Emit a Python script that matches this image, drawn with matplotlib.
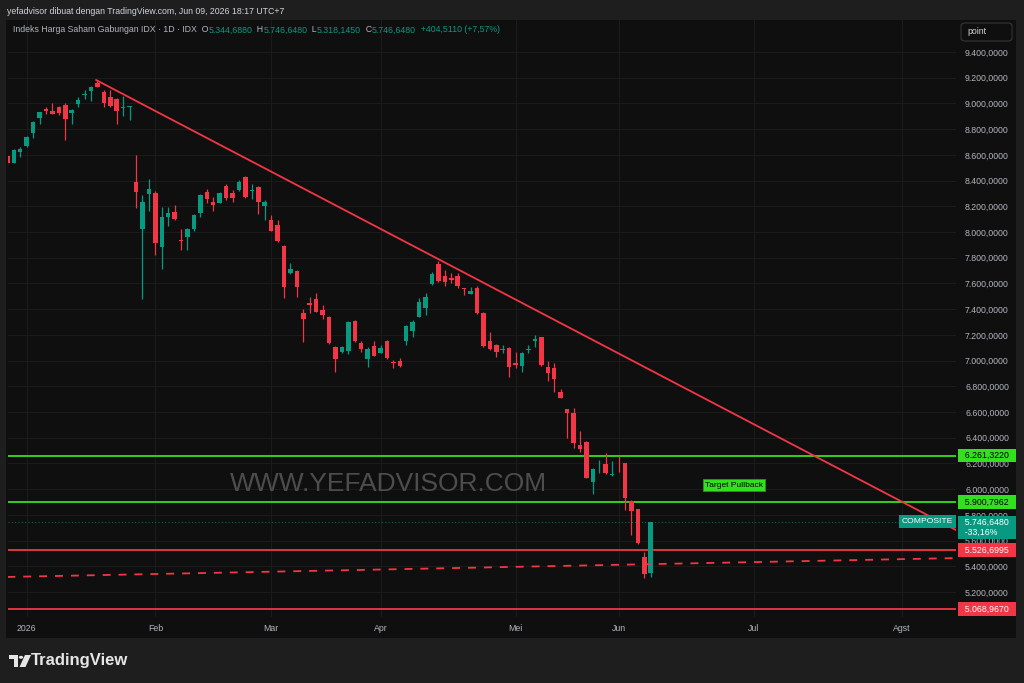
import numpy as np
import matplotlib
matplotlib.use("Agg")
import matplotlib.pyplot as plt
import matplotlib.transforms as mtransforms
from matplotlib.patches import Rectangle, FancyBboxPatch, Polygon, Circle

plt.rcParams['font.family'] = ['Liberation Sans', 'DejaVu Sans']

W, H = 1024, 683

# IDX composite, daily bars, end of Dec 2025 .. Jun 09 2026
opens = np.array([
    8591, 8539, 8620, 8669, 8772, 8884, 8957, 8943, 8970, 8990,
    8928, 8998, 9066, 9097, 9157, 9091, 9052, 9032, 8962, 8970,
    8391, 8021, 8296, 8306, 7881, 8119, 8153, 7938, 7963, 8021,
    8145, 8313, 8236, 8228, 8358, 8301, 8327, 8430, 8319, 8352,
    8202, 8093, 8054, 7893, 7683, 7697, 7372, 7444, 7479, 7393,
    7341, 7108, 7067, 7077, 7308, 7134, 7015, 7116, 7062, 7152,
    6990, 6994, 7155, 7232, 7341, 7407, 7596, 7751, 7660, 7645,
    7660, 7560, 7518, 7562, 7372, 7152, 7121, 7084, 7100, 6983,
    6960, 7082, 7156, 7181, 6952, 6945, 6758, 6623, 6595, 6343,
    6364, 6053, 6192, 6196, 6112, 6199, 6201, 5908, 5843, 5475,
    5344.688])
highs = np.array([
    8599, 8645, 8663, 8750, 8860, 8937, 8972, 9001, 8980, 9003,
    8957, 9050, 9104, 9135, 9182, 9104, 9104, 9040, 9058, 8980,
    8599, 8288, 8410, 8319, 8197, 8197, 8210, 8023, 8031, 8140,
    8296, 8334, 8270, 8313, 8373, 8327, 8401, 8438, 8373, 8358,
    8245, 8132, 8093, 7899, 7757, 7704, 7399, 7497, 7523, 7432,
    7347, 7113, 7113, 7304, 7316, 7155, 7108, 7155, 7124, 7160,
    7004, 7018, 7277, 7312, 7484, 7523, 7685, 7775, 7704, 7679,
    7679, 7562, 7570, 7582, 7378, 7225, 7125, 7121, 7106, 7064,
    7063, 7121, 7199, 7183, 6999, 6979, 6777, 6627, 6629, 6455,
    6371, 6161, 6227, 6284, 6219, 6258, 6203, 5916, 5849, 5514,
    5746.648])
lows = np.array([
    8521, 8537, 8581, 8661, 8731, 8838, 8918, 8914, 8910, 8716,
    8838, 8975, 9034, 9021, 9124, 8975, 8970, 8838, 8902, 8871,
    8184, 7477, 8166, 7821, 7710, 8049, 8093, 7860, 7860, 8008,
    8114, 8223, 8166, 8223, 8249, 8236, 8319, 8262, 8257, 8140,
    8093, 8004, 7926, 7484, 7677, 7497, 7147, 7368, 7374, 7321,
    7129, 6913, 7059, 7051, 7148, 7064, 6948, 7032, 7057, 7016,
    6940, 6952, 7121, 7181, 7335, 7354, 7588, 7611, 7580, 7601,
    7567, 7510, 7514, 7362, 7109, 7086, 7030, 7057, 6875, 6945,
    6913, 7057, 7108, 6958, 6843, 6758, 6705, 6395, 6318, 6289,
    6083, 5960, 6123, 6118, 6102, 6136, 5838, 5643, 5577, 5307,
    5318.145])
closes = np.array([
    8537, 8638, 8645, 8741, 8853, 8931, 8939, 8920, 8928, 8881,
    8949, 9029, 9073, 9130, 9130, 9006, 8982, 8943, 8975, 8976,
    8311, 8231, 8332, 7917, 8119, 8145, 8099, 7930, 8023, 8132,
    8288, 8257, 8208, 8306, 8262, 8267, 8391, 8270, 8327, 8231,
    8236, 8010, 7932, 7570, 7710, 7575, 7326, 7436, 7380, 7354,
    7134, 7012, 7103, 7298, 7155, 7090, 7090, 7038, 7098, 7022,
    6984, 6960, 7271, 7302, 7453, 7497, 7673, 7619, 7609, 7627,
    7582, 7554, 7539, 7368, 7116, 7092, 7064, 7090, 6952, 6966,
    7057, 7088, 7164, 6966, 6901, 6854, 6711, 6595, 6361, 6310,
    6089, 6155, 6199, 6123, 6118, 6192, 5934, 5830, 5584, 5342.137,
    5746.648])

month_pos = [3, 23, 41, 58, 79, 95, 116, 139]
month_labels = ['2026', 'Feb', 'Mar', 'Apr', 'Mei', 'Jun', 'Jul', 'Agst']
price_ticks = np.arange(5200, 9401, 200)

# drawings on the chart
green_levels = [6261.3220, 5900.7962]
red_levels = [5526.6995, 5068.9670]
trend_x = [13.8, 147.6]
trend_y = [9182, 5678]
dash_x = [0, 147.6]
dash_y = [5317, 5464]
target_x, target_y = 113, 6032
change_pct = '-33,16%'

UP = '#089981'
DOWN = '#f23645'
GREEN = '#33e01f'
BG = '#0f0f0f'
OUTER = '#1e1e1e'
TXT = '#b2b5be'
FS = 6.3


def idn(v, d=4):
    s = f"{v:,.{d}f}"
    return s.replace(',', '_').replace('.', ',').replace('_', '.')


def fx(px):
    return px / W


def fy(py):
    return 1 - py / H


fig = plt.figure(figsize=(W / 100, H / 100), dpi=100, facecolor=OUTER)
fig.add_artist(Rectangle((fx(6), fy(638)), fx(1016) - fx(6), fy(20) - fy(638),
                         transform=fig.transFigure, fc=BG, ec='none', zorder=-1))

ax = fig.add_axes([fx(8), fy(617), fx(956) - fx(8), fy(20) - fy(617)])
ax.set_facecolor(BG)
ax.set_xlim(0.1, 147.45)
ax.set_ylim(5005.5, 9648.8)
for s in ax.spines.values():
    s.set_visible(False)

ax.yaxis.tick_right()
ax.set_yticks(price_ticks, labels=[idn(v) for v in price_ticks])
ax.set_xticks(month_pos, labels=month_labels)
ax.tick_params(axis='y', length=0, pad=6.5, labelsize=FS, labelcolor=TXT)
ax.tick_params(axis='x', length=0, pad=5, labelsize=FS, labelcolor=TXT)
ax.grid(True, color='#1b1b1b', lw=0.8)
ax.set_axisbelow(True)

# watermark
ax.text(59.2, 6040, 'WWW.YEFADVISOR.COM', ha='center', va='center',
        fontsize=19, color='#4d4d4d', zorder=1)

# candles
x = np.arange(len(opens))
up = closes >= opens
cols = np.where(up, UP, DOWN)
ax.vlines(x, lows, highs, colors=cols, lw=0.9, zorder=3)
body_lo = np.minimum(opens, closes)
body_h = np.maximum(np.abs(closes - opens), 7)
ax.bar(x, body_h, bottom=body_lo, width=0.7, color=cols, edgecolor='none', zorder=4)

# levels and trend lines
for lv in green_levels:
    ax.axhline(lv, color=GREEN, lw=1.3, zorder=2)
for lv in red_levels:
    ax.axhline(lv, color=DOWN, lw=1.3, zorder=2)
ax.axhline(closes[-1], color=UP, lw=0.8, ls=(0, (1, 2)), alpha=0.6, zorder=2)
ax.plot(trend_x, trend_y, color=DOWN, lw=1.3, zorder=5)
ax.plot(dash_x, dash_y, color=DOWN, lw=1.3, ls=(0, (4.4, 4.4)), zorder=5)

ax.text(target_x, target_y, 'Target Pullback', ha='center', va='center', fontsize=6,
        color='black', zorder=6,
        bbox=dict(boxstyle='square,pad=0.25', fc=GREEN, ec='#1f9a12', lw=0.6))

blend = mtransforms.blended_transform_factory(ax.transAxes, ax.transData)


def tag(price, text, fc, tc, dy=0, va='center', ls=1.0):
    ax.annotate(text, xy=(1, price), xycoords=blend, xytext=(2.9, dy),
                textcoords='offset points', ha='left', va=va, fontsize=FS,
                color=tc, linespacing=ls, annotation_clip=False, zorder=7,
                bbox=dict(boxstyle='square,pad=0.25', fc=fc, ec='none'))


tag(green_levels[0], '  ' + idn(green_levels[0]) + '  ', GREEN, 'black')
tag(green_levels[1], '  ' + idn(green_levels[1]) + '  ', GREEN, 'black')
tag(red_levels[0], '  ' + idn(red_levels[0]) + '  ', DOWN, 'white')
tag(red_levels[1], '  ' + idn(red_levels[1]) + '  ', DOWN, 'white')
tag(closes[-1], '  ' + idn(closes[-1]) + '  \n  ' + change_pct, UP, 'white',
    dy=2.8, va='top', ls=1.2)

ax.annotate('COMPOSITE', xy=(1, closes[-1]), xycoords=blend, xytext=(-2.2, 0),
            textcoords='offset points', ha='right', va='center', fontsize=6.1,
            color='white', annotation_clip=False, zorder=7,
            bbox=dict(boxstyle='square,pad=0.35', fc=UP, ec='none'))

# header and legend
fig.text(fx(7), fy(11), 'yefadvisor dibuat dengan TradingView.com, Jun 09, 2026 18:17 UTC+7',
         ha='left', va='center', fontsize=FS, color='#d1d4dc')

o, h, l, c = opens[-1], highs[-1], lows[-1], closes[-1]
chg = c - closes[-2]
pieces = [('  O', TXT), (idn(o), UP), ('  H', TXT), (idn(h), UP),
          ('  L', TXT), (idn(l), UP), ('  C', TXT), (idn(c), UP),
          ('  ' + ('+' if chg >= 0 else '') + idn(chg) + ' (+' + idn(chg / closes[-2] * 100, 2) + '%)', UP)]
prev = fig.text(fx(13), fy(30), 'Indeks Harga Saham Gabungan IDX · 1D · IDX',
                ha='left', va='center', fontsize=FS, color=TXT)
for txt, col in pieces:
    prev = ax.annotate(txt, xy=(1, 0.5), xycoords=prev, ha='left', va='center',
                       fontsize=FS, color=col, annotation_clip=False)

# "point" button on the price scale
fig.add_artist(FancyBboxPatch((fx(961), fy(41)), fx(1012) - fx(961), fy(23) - fy(41),
                              boxstyle='round,pad=0,rounding_size=0.004',
                              transform=fig.transFigure, fc=BG, ec='#363636', lw=0.8))
fig.text(fx(967), fy(32), 'point', ha='left', va='center', fontsize=FS, color='#d1d4dc')

# footer logo
logo = '#e6e6e6'
fig.add_artist(Rectangle((fx(9), fy(659)), fx(17.5) - fx(9), fy(655) - fy(659),
                         transform=fig.transFigure, fc=logo, ec='none'))
fig.add_artist(Rectangle((fx(13.5), fy(667)), fx(17.5) - fx(13.5), fy(655) - fy(667),
                         transform=fig.transFigure, fc=logo, ec='none'))
fig.add_artist(Circle((fx(21), fy(657.3)), 2.2 / W, transform=fig.transFigure,
                      fc=logo, ec='none'))
fig.add_artist(Polygon([(fx(25), fy(655)), (fx(31), fy(655)), (fx(25.5), fy(667)),
                        (fx(19.5), fy(667))], closed=True, transform=fig.transFigure,
                       fc=logo, ec='none'))
fig.text(fx(31), fy(661), 'TradingView', ha='left', va='center', fontsize=12,
         color=logo, fontweight='bold')

fig.savefig('out.png', dpi=100, facecolor=OUTER)
